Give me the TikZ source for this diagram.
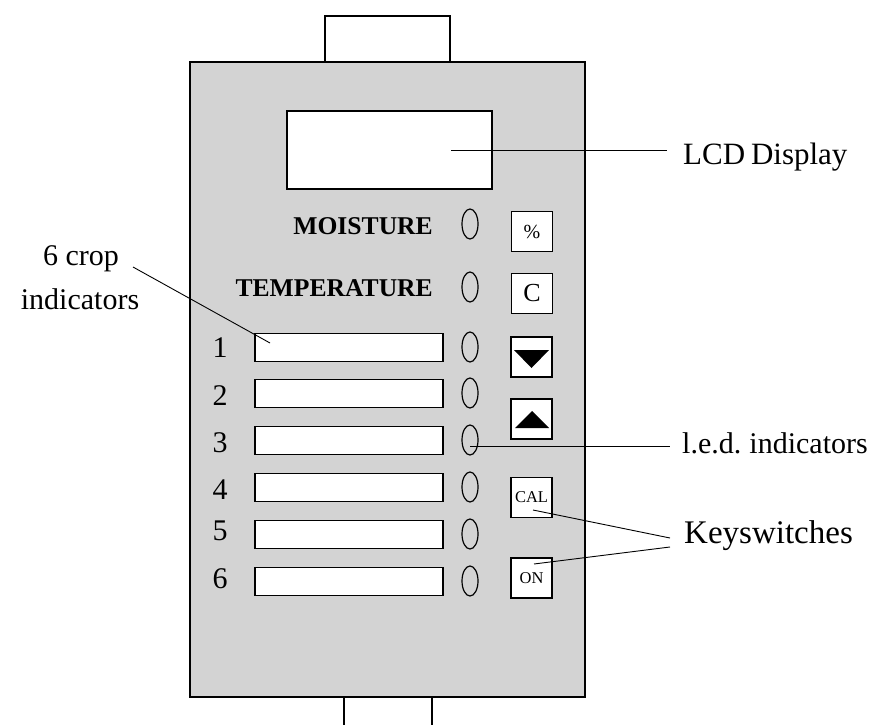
\documentclass[tikz,border=0pt]{standalone}
\usetikzlibrary{shapes.geometric}
\usepackage{fontspec}
\setmainfont{Liberation Serif}
\newfontfamily\tightserif[WordSpace=0.75]{Liberation Serif}
\definecolor{bodygray}{RGB}{211,211,211}
\begin{document}
\begin{tikzpicture}[x=1pt,y=-1pt,
 lw/.style={line width=1.5pt,draw=black},
 thick box/.style={line width=2.4pt,draw=black},
 slotbox/.style={lw,fill=white,minimum width=188pt,minimum height=28pt,inner sep=0,outer sep=0,anchor=center},
 led/.style={draw=black,line width=1.2pt,fill=none,ellipse,minimum width=16pt,minimum height=30pt,inner sep=0,outer sep=0},
 key/.style={lw,fill=white,minimum width=41pt,minimum height=40pt,inner sep=0,outer sep=0},
 smallkey/.style={key,font=\fontsize{16.5}{18}\selectfont},
 lab/.style={font=\fontsize{30}{32}\selectfont,inner sep=0},
 num/.style={font=\fontsize{30}{32}\selectfont,inner sep=0},
 boldlab/.style={font=\bfseries\fontsize{25.6}{28}\selectfont,inner sep=0},
 lead/.style={line width=0.9pt,draw=black}]
\useasboundingbox (0,0) rectangle (874,725);
\fill[white] (0,0) rectangle (874,725);
\draw[thick box] (325,62) -- (325,16) -- (450,16) -- (450,62);
\draw[thick box] (344,697) -- (344,725);
\draw[thick box] (432,697) -- (432,725);
\node[thick box,fill=bodygray,minimum width=395pt,minimum height=635pt,inner sep=0,outer sep=0,anchor=north west] (body) at (190,62) {};
\node[thick box,fill=white,minimum width=205pt,minimum height=78pt,inner sep=0] (lcd) at (389.5,150) {};
\node[boldlab,anchor=east] (tmoist) at (433,226) {MOISTURE};
\node[boldlab,anchor=east] (ttemp) at (433,288) {TEMPERATURE};
\foreach \n/\y/\t in {1/347.5/348,2/393.5/396,3/440.5/443,4/487.5/490,5/534.5/531,6/581.5/579}{
 \node[slotbox] (s\n) at (349,\y) {};
 \node[num] (n\n) at (220,\t) {\n};
}
\foreach \n/\y in {m/224,t/287,1/347,2/393,3/440,4/487,5/534,6/581}{
 \node[led] (l\n) at (470,\y) {};
}
\node[key,font=\fontsize{20}{22}\selectfont] (kp) at (532,231.5) {\raisebox{-3pt}{\%}};
\node[key,font=\fontsize{26}{28}\selectfont] (kc) at (532,293.5) {\raisebox{-1pt}{C}};
\node[key] (kd) at (531.5,357) {};
\node[key] (ku) at (531.5,419) {};
\fill (514,350) -- (549,350) -- (531.5,368) -- cycle;
\fill (515,428) -- (549,428) -- (532,411) -- cycle;
\node[smallkey] (kcal) at (531.5,497.5) {\raisebox{-1pt}{CAL}};
\node[smallkey] (kon) at (531.5,578) {\raisebox{-1pt}{ON}};
\node[anchor=base west,inner sep=0,font=\tightserif\fontsize{31}{33}\selectfont] (tlcd) at (683,164) {LCD Display};
\node[anchor=base west,inner sep=0,font=\tightserif\fontsize{30}{32}\selectfont] (tled) at (682,453) {l.e.d. indicators};
\node[lab,anchor=base west,font=\fontsize{33}{35}\selectfont] (tkey) at (684,543) {Keyswitches};
\node[lab,anchor=base] (tc1) at (81,265) {6 crop};
\node[lab,anchor=base] (tc2) at (80,309) {indicators};
\coordinate (a1) at (451,150);
\coordinate (a1e) at (667,150);
\coordinate (a2) at (470,446);
\coordinate (a2e) at (670,446);
\coordinate (a3) at (533,510);
\coordinate (a3e) at (670,538);
\coordinate (a4) at (534,564);
\coordinate (a4e) at (670,547);
\coordinate (a5) at (133,267);
\coordinate (a6) at (270,343);
\draw[lead] (a1) -- (a1e);
\draw[lead] (a2) -- (a2e);
\draw[lead] (a3) -- (a3e);
\draw[lead] (a4) -- (a4e);
\draw[lead] (a5) -- (a6);
\end{tikzpicture}
\end{document}
